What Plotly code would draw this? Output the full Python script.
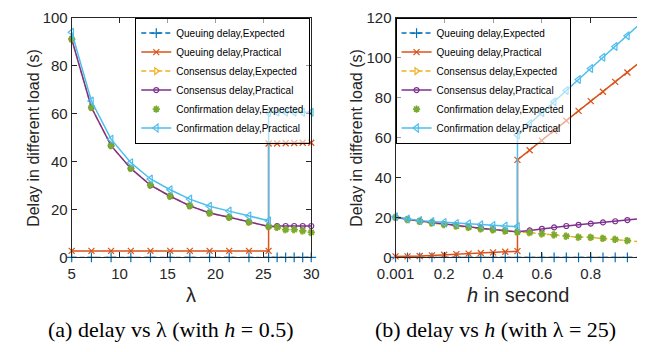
import plotly.graph_objects as go

# ---------------- data: panel (a) delay vs lambda ----------------
lam = [5, 7.06, 9.11, 11.17, 13.22, 15.28, 17.33, 19.39, 21.44, 23.5, 25.55,
       26.44, 27.33, 28.22, 29.11, 30]
lam_jump = [5, 7.06, 9.11, 11.17, 13.22, 15.28, 17.33, 19.39, 21.44, 23.5, 25.55,
            25.55, 26.44, 27.33, 28.22, 29.11, 30]
a_queue_exp = [0, 0, 0, 0, 0, 0, 0, 0, 0, 0, 0, 0, 0, 0, 0, 0]
a_queue_prac = [2.7, 2.7, 2.7, 2.7, 2.7, 2.7, 2.7, 2.7, 2.7, 2.7, 2.7,
                47.5, 47.5, 47.6, 47.7, 47.8, 47.8]
a_cons_exp = [91.0, 62.5, 46.6, 37.1, 30.1, 25.5, 21.5, 18.5, 16.7, 14.7, 12.9,
              12.5, 11.6, 11.6, 11.1, 10.4]
a_cons_prac = [91.0, 62.5, 46.6, 37.1, 30.1, 25.5, 21.5, 18.5, 16.7, 14.7, 12.9,
               13.1, 13.1, 13.1, 13.1, 13.1]
a_conf_exp = [91.0, 62.5, 46.6, 37.1, 30.1, 25.5, 21.5, 18.5, 16.7, 14.7, 12.9,
              12.5, 11.6, 11.6, 11.1, 10.4]
a_conf_prac = [93.9, 65.2, 49.3, 39.5, 32.7, 28.2, 24.3, 21.3, 19.3, 17.3, 15.3,
               60.4, 60.5, 60.5, 60.5, 60.5, 60.5]

# ---------------- data: panel (b) delay vs h ----------------
h = [0.001, 0.05, 0.1, 0.15, 0.2, 0.25, 0.3, 0.35, 0.4, 0.45, 0.5,
     0.55, 0.6, 0.65, 0.7, 0.75, 0.8, 0.85, 0.9, 0.95, 1.0]
h_jump = [0.001, 0.05, 0.1, 0.15, 0.2, 0.25, 0.3, 0.35, 0.4, 0.45, 0.5,
          0.5, 0.55, 0.6, 0.65, 0.7, 0.75, 0.8, 0.85, 0.9, 0.95, 1.0]
b_queue_exp = [0, 0, 0, 0, 0, 0, 0, 0, 0, 0, 0, 0, 0, 0, 0, 0, 0, 0, 0, 0, 0]
b_queue_prac = [0.5, 0.5, 0.7, 1.0, 1.3, 1.6, 1.9, 2.2, 2.5, 2.8, 3.1,
                48.8, 53.6, 58.4, 63.3, 68.4, 73.3, 78.2, 82.9, 87.8, 92.5, 97.6]
b_cons_exp = [20.0, 18.9, 18.0, 17.2, 16.4, 15.7, 15.0, 14.3, 13.8, 13.2, 12.7,
              12.4, 11.8, 11.3, 10.6, 10.1, 10.0, 9.5, 9.0, 8.4, 7.8]
b_cons_prac = [20.0, 19.0, 18.2, 17.5, 16.7, 16.0, 15.3, 14.6, 14.0, 13.4, 12.8,
               13.5, 14.3, 15.0, 15.7, 16.3, 16.9, 17.5, 18.1, 18.7, 19.4]
b_conf_exp = [20.0, 18.9, 18.0, 17.2, 16.4, 15.7, 15.0, 14.3, 13.8, 13.2, 12.7,
              12.4, 11.8, 11.3, 10.6, 10.1, 10.0, 9.5, 9.0, 8.4, 7.8]
b_conf_prac = [20.3, 19.2, 18.4, 17.9, 17.5, 17.0, 16.8, 16.3, 16.0, 15.7, 15.4,
               61.3, 66.9, 72.4, 77.9, 83.5, 89.0, 94.5, 100.1, 105.5, 110.9, 116.7]

names = ["Queuing delay,Expected", "Queuing delay,Practical",
         "Consensus delay,Expected", "Consensus delay,Practical",
         "Confirmation delay,Expected", "Confirmation delay,Practical"]

a_ticks = [5, 10, 15, 20, 25, 30]
a_yticks = [0, 20, 40, 60, 80, 100]
b_ticks = [0.001, 0.2, 0.4, 0.6, 0.8, 1]
b_ticktext = ["0.001", "0.2", "0.4", "0.6", "0.8", "1"]
b_yticks = [0, 20, 40, 60, 80, 100, 120]

BLUE = "#0072BD"; ORANGE = "#D95319"; YELLOW = "#EDB120"
PURPLE = "#7E2F8E"; GREEN = "#77AC30"; LBLUE = "#4DBEEE"
DASH = "5px,3px"

styles = [
    dict(color=BLUE, dash=DASH, mode="lines+markers", symbol="cross-thin", size=7),
    dict(color=ORANGE, dash="solid", mode="lines+markers", symbol="x-thin", size=6),
    dict(color=YELLOW, dash=DASH, mode="lines+markers", symbol="triangle-right-open", size=6),
    dict(color=PURPLE, dash="solid", mode="lines+markers", symbol="circle-open", size=5),
    dict(color=GREEN, dash="solid", mode="markers", symbol="asterisk-open", size=6),
    dict(color=LBLUE, dash="solid", mode="lines+markers", symbol="triangle-left-open", size=7),
]

fig = go.Figure()

panel_a = [(lam, a_queue_exp), (lam_jump, a_queue_prac), (lam, a_cons_exp),
           (lam, a_cons_prac), (lam, a_conf_exp), (lam_jump, a_conf_prac)]
panel_b = [(h, b_queue_exp), (h_jump, b_queue_prac), (h, b_cons_exp),
           (h, b_cons_prac), (h, b_conf_exp), (h_jump, b_conf_prac)]


def add_panel(panel, xa, ya, leg):
    for (xs, ys), nm, st in zip(panel, names, styles):
        fig.add_trace(go.Scatter(
            x=xs, y=ys, name=nm, mode=st["mode"], xaxis=xa, yaxis=ya, legend=leg,
            line=dict(color=st["color"], width=1.5, dash=st["dash"]),
            marker=dict(symbol=st["symbol"], size=st["size"], color=st["color"],
                        line=dict(color=st["color"],
                                  width=1.7 if st["color"] == GREEN else 1.2)),
            cliponaxis=False))


add_panel(panel_a, "x", "y", "legend")
add_panel(panel_b, "x2", "y2", "legend2")

W, H = 645, 352
AX = "#262626"
SANS = "Liberation Sans, Arial, sans-serif"
tickfont = dict(family=SANS, size=15, color=AX)
common = dict(showline=True, linecolor=AX, linewidth=1, ticks="inside", ticklen=5,
              tickcolor=AX, tickwidth=1, showgrid=False, zeroline=False, tickfont=tickfont)

ydom = [1 - 261 / H, 1 - 9 / H]
legend_style = dict(yanchor="top", y=1 - 9 / H, bgcolor="rgba(255,255,255,0.55)",
                    bordercolor="#000000", borderwidth=1,
                    font=dict(family=SANS, size=10, color="#000000"),
                    itemwidth=30, tracegroupgap=0)
fig.update_layout(
    width=W, height=H, margin=dict(l=0, r=0, t=0, b=0),
    paper_bgcolor="white", plot_bgcolor="white", showlegend=True,
    xaxis=dict(domain=[55 / W, 305 / W], range=[5, 30], tickvals=a_ticks,
               mirror="ticks", anchor="y", ticklabelstandoff=3, **common),
    yaxis=dict(domain=ydom, range=[0, 100], tickvals=a_yticks, mirror="ticks",
               anchor="x", **common),
    xaxis2=dict(domain=[393 / W, 1.0], range=[0.001, 0.001 + (W - 393) / 255.0],
                tickvals=b_ticks, ticktext=b_ticktext, mirror="ticks", anchor="y2",
                ticklabelstandoff=3, **common),
    yaxis2=dict(domain=ydom, range=[0, 120], tickvals=b_yticks, mirror=False,
                anchor="x2", **common),
    legend=dict(x=304 / W, xanchor="right", **legend_style),
    legend2=dict(x=393 / W, xanchor="left", **legend_style),
)

lab_font = dict(family=SANS, size=16, color=AX)
big_font = dict(family=SANS, size=20, color=AX)
cap_font = dict(family="Liberation Serif, Times New Roman, serif", size=22, color="#000000")
ann = [
    dict(text="Delay in different load (s)", x=15 / W, y=1 - 135 / H, textangle=-90, font=lab_font),
    dict(text="Delay in different load (s)", x=352 / W, y=1 - 135 / H, textangle=-90, font=lab_font),
    dict(text="λ", x=180 / W, y=1 - 300 / H, font=big_font),
    dict(text="<i>h</i> in second", x=520.5 / W, y=1 - 300 / H, font=big_font),
    dict(text="(a) delay vs λ (with <i>h</i> = 0.5)", x=158 / W, y=1 - 337 / H, font=cap_font),
    dict(text="(b) delay vs <i>h</i> (with λ = 25)", x=497 / W, y=1 - 337 / H, font=cap_font),
]
for a in ann:
    fig.add_annotation(xref="paper", yref="paper", showarrow=False,
                       xanchor="center", yanchor="middle", **a)

fig.write_html("out.html")
